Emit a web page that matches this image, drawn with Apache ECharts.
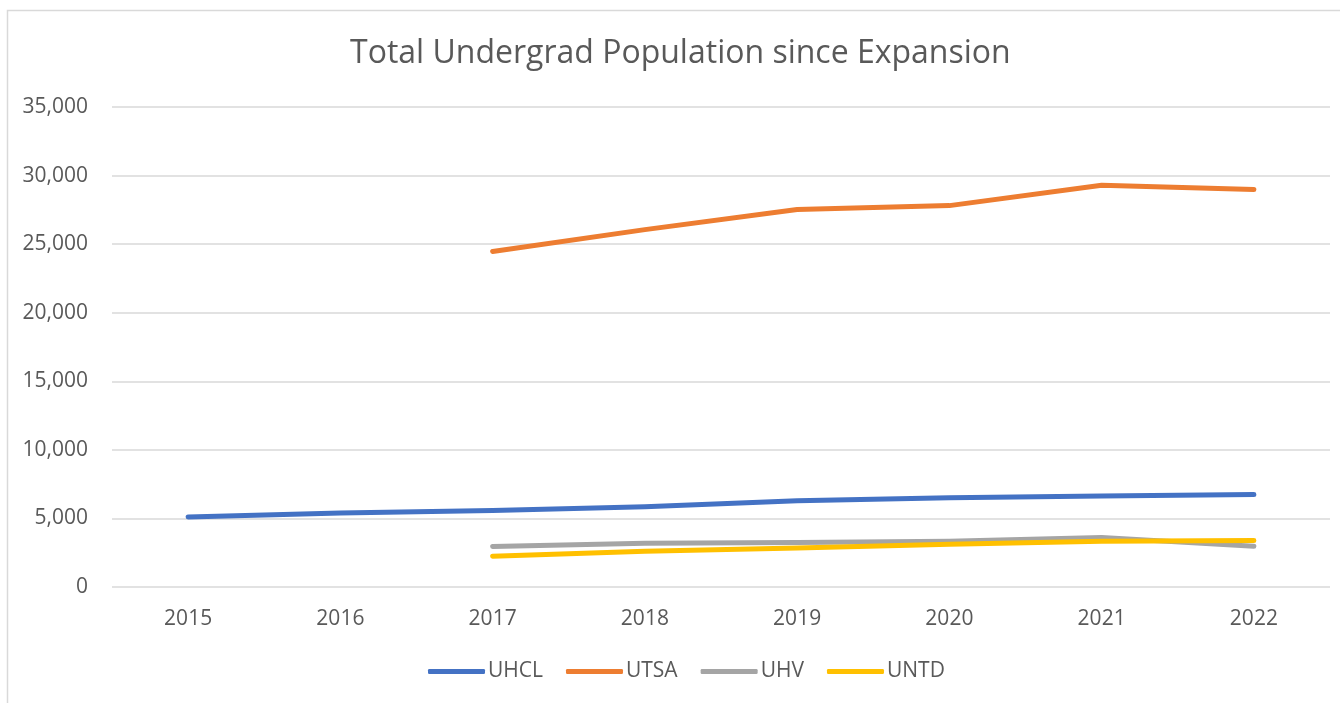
<!DOCTYPE html>
<html>
<head>
    <meta charset="utf-8">
    <style>
        body{
            margin:0;
            padding:0;
            background:#ffffff;
        }
        #chart{
            width:1340px;
            height:703px;
        }
    </style>
</head>
<body>
    <div id="chart"></div>
    <script src="https://cdn.jsdelivr.net/npm/echarts@6/dist/echarts.min.js"></script>
    <script>
        var years = ["2015", "2016", "2017", "2018", "2019", "2020", "2021", "2022"];
        var uhcl = [5100, 5400, 5580, 5850, 6290, 6500, 6630, 6750];
        var utsa = [null, null, 24470, 26060, 27520, 27810, 29290, 28980];
        var uhv = [null, null, 2950, 3190, 3240, 3340, 3610, 2970];
        var untd = [null, null, 2240, 2610, 2850, 3120, 3340, 3390];

        var names = ["UHCL", "UTSA", "UHV", "UNTD"];
        var colors = ["#4472C4", "#ED7D31", "#A5A5A5", "#FFC000"];
        var values = [uhcl, utsa, uhv, untd];

        var font = "Open Sans";
        var chart = echarts.init(document.getElementById("chart"));

        var series = [];
        for (var i = 0; i < names.length; i++) {
            series.push({
                name: names[i],
                type: "line",
                data: values[i],
                showSymbol: false,
                symbol: "none",
                connectNulls: false,
                lineStyle: {
                    color: colors[i],
                    width: 5,
                    cap: "round",
                    join: "round"
                },
                itemStyle: { color: colors[i] }
            });
        }

        var option = {
            animation: false,
            color: colors,
            title: {
                text: "Total Undergrad Population since Expansion",
                left: 345,
                top: 33,
                textStyle: {
                    fontFamily: font,
                    fontSize: 32,
                    fontWeight: "normal",
                    color: "#595959"
                }
            },
            graphic: [{
                type: "rect",
                left: 5,
                top: 8,
                shape: { width: 1400, height: 800 },
                style: { fill: null, stroke: "#d9d9d9", lineWidth: 1.5 },
                silent: true
            }],
            legend: {
                bottom: 16,
                left: 423,
                itemWidth: 57,
                itemHeight: 5,
                itemGap: 23,
                icon: "roundRect",
                data: names,
                textStyle: {
                    fontFamily: font,
                    fontSize: 21,
                    color: "#595959",
                    padding: [0, 0, 0, -2]
                }
            },
            grid: {
                left: 112,
                right: 10,
                top: 107,
                bottom: 116,
                containLabel: false
            },
            xAxis: {
                type: "category",
                data: years,
                boundaryGap: true,
                axisLine: { show: false },
                axisTick: { show: false },
                axisLabel: {
                    margin: 22,
                    fontFamily: font,
                    fontSize: 21,
                    color: "#595959"
                }
            },
            yAxis: {
                type: "value",
                min: 0,
                max: 35000,
                interval: 5000,
                axisLine: { show: false },
                axisTick: { show: false },
                splitLine: { lineStyle: { color: "#d9d9d9", width: 1.5 } },
                axisLabel: {
                    margin: 24,
                    fontFamily: font,
                    fontSize: 21,
                    color: "#595959",
                    formatter: function (v) {
                        return v.toLocaleString("en-US");
                    }
                }
            },
            series: series
        };

        chart.setOption(option);
    </script>
</body>
</html>
